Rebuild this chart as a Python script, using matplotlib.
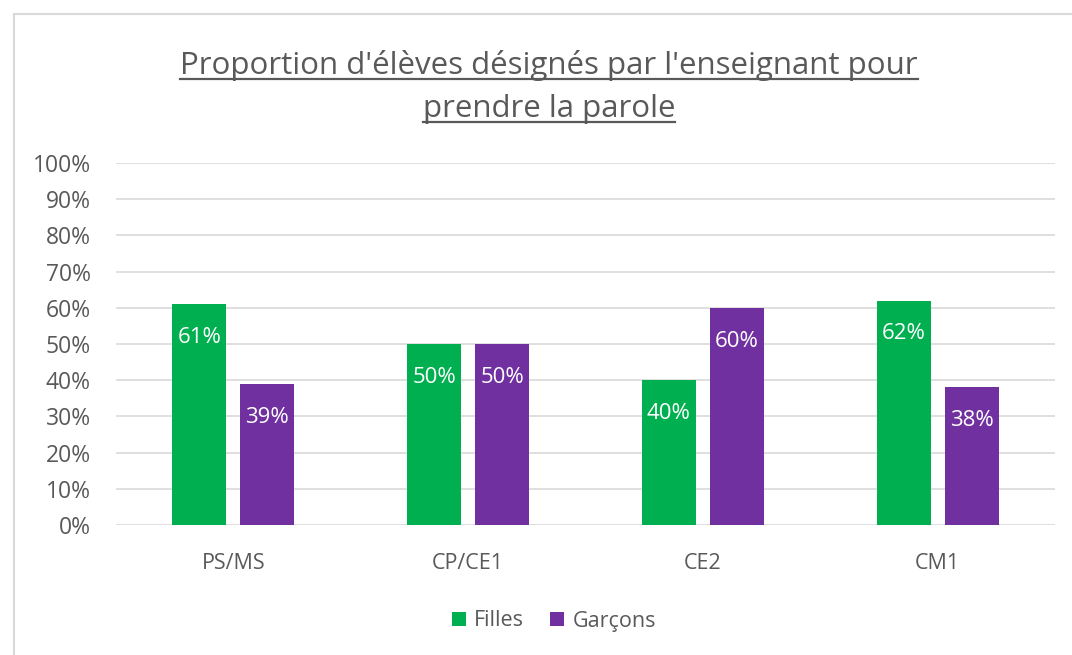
import matplotlib.pyplot as plt
import numpy as np
from matplotlib.patches import Rectangle
from matplotlib.lines import Line2D

plt.rcParams['font.family'] = ['Open Sans', 'DejaVu Sans']

categories = ['PS/MS', 'CP/CE1', 'CE2', 'CM1']
filles = [61, 50, 40, 62]
garcons = [39, 50, 60, 38]
series_names = ['Filles', 'Garçons']
title_lines = ["Proportion d'élèves désignés par l'enseignant pour", "prendre la parole"]

GREEN = '#00B050'
PURPLE = '#7030A0'
GREY = '#595959'
GRID = '#D9D9D9'

W, H = 1072, 655
fig = plt.figure(figsize=(W / 100, H / 100), dpi=100)

# chart frame
fig.patches.append(Rectangle((14 / W, -0.1), 1.2, 1 - 14 / H + 0.1, transform=fig.transFigure,
                             fill=False, edgecolor=GRID, lw=1.5))

ax = fig.add_axes([116 / W, 1 - 525 / H, (1055 - 116) / W, (525 - 163) / H])

x = np.arange(len(categories))
bw = 0.23
off = 0.145
b1 = ax.bar(x - off, filles, bw, color=GREEN, label=series_names[0], zorder=3)
b2 = ax.bar(x + off, garcons, bw, color=PURPLE, label=series_names[1], zorder=3)

for bars, vals in [(b1, filles), (b2, garcons)]:
    for rect, v in zip(bars, vals):
        ax.annotate(f'{v}%', (rect.get_x() + rect.get_width() / 2, v),
                    xytext=(0, -24), textcoords='offset points',
                    ha='center', va='center', color='white', fontsize=16, zorder=4)

ax.set_xlim(-0.5, len(categories) - 0.5)
ax.set_ylim(0, 100)
ax.set_yticks(range(0, 101, 10))
ax.set_yticklabels([f'{v}%' for v in range(0, 101, 10)])
ax.set_xticks(x)
ax.set_xticklabels(categories)
ax.tick_params(axis='both', length=0, colors=GREY, labelsize=15.5)
ax.tick_params(axis='y', labelsize=16.5, pad=18)
ax.tick_params(axis='x', pad=20)
ax.yaxis.grid(True, color=GRID, lw=1.2, zorder=0)
for s in ax.spines.values():
    s.set_visible(False)

leg = fig.legend(handles=[b1, b2], labels=series_names, loc='center',
                 bbox_to_anchor=(554 / W, 1 - 621 / H), ncol=2, frameon=False,
                 fontsize=15.5, handlelength=0.65, handleheight=0.65, handletextpad=0.4,
                 columnspacing=1.2, labelcolor=GREY)

# title, underlined line by line
ys = [74, 117]
texts = []
for line, yb in zip(title_lines, ys):
    t = fig.text(549 / W, 1 - yb / H, line, ha='center', va='baseline',
                 fontsize=22.5, color=GREY)
    texts.append(t)

fig.canvas.draw()
r = fig.canvas.get_renderer()
for t, yb in zip(texts, ys):
    bb = t.get_window_extent(r)
    yl = 1 - (yb + 5) / H
    fig.add_artist(Line2D([bb.x0 / W, bb.x1 / W], [yl, yl], transform=fig.transFigure,
                          color=GREY, lw=1.6))

fig.savefig('out.png', dpi=100)
